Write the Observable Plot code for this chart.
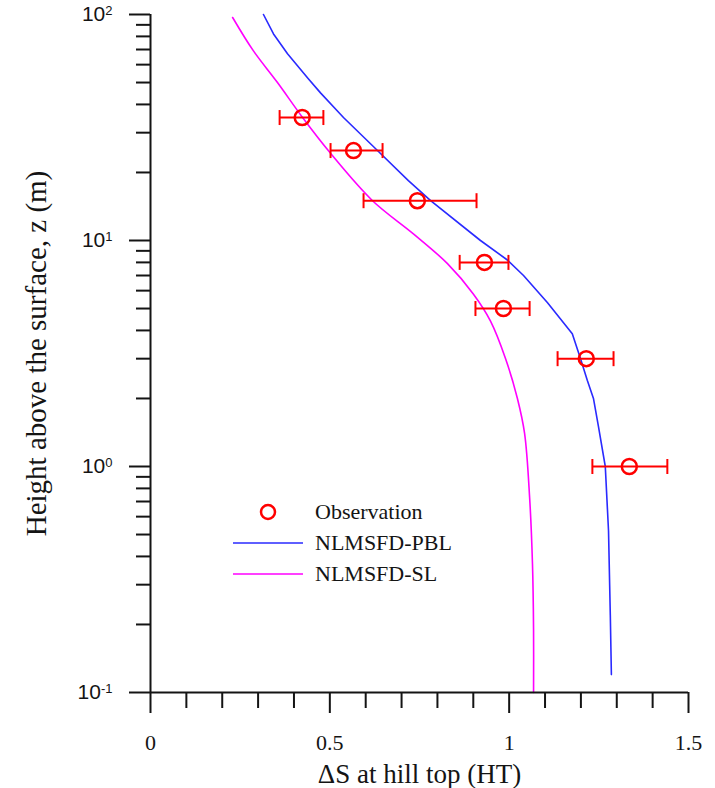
<!DOCTYPE html>
<html>
<head>
<meta charset="utf-8">
<script src="https://cdn.jsdelivr.net/npm/d3@7"></script>
<script src="https://cdn.jsdelivr.net/npm/@observablehq/plot@0.6"></script>
<style>
  html, body { margin: 0; padding: 0; background: #fff; }
  #wrap { position: relative; width: 715px; height: 788px; overflow: hidden; }
  #legend { position: absolute; left: 0; top: 0; pointer-events: none; }
</style>
</head>
<body>
<div id="wrap"></div>
<script>
// Observations (z in m, ΔS with error range)
const obsZ  = [35, 25, 15, 8, 5, 3, 1];
const obsX  = [0.423, 0.566, 0.744, 0.931, 0.984, 1.215, 1.335];
const obsLo = [0.360, 0.502, 0.594, 0.862, 0.906, 1.135, 1.232];
const obsHi = [0.482, 0.647, 0.909, 0.998, 1.057, 1.291, 1.441];

// NLMSFD-PBL model profile
const pblZ = [100, 82, 67, 52, 45, 35, 26, 18.4, 15, 10, 8.2, 7.0, 5.3, 3.87, 3.0, 2.4, 2.0, 1.5, 1.0, 0.52, 0.22, 0.12];
const pblX = [0.315, 0.343, 0.382, 0.440, 0.474, 0.538, 0.622, 0.719, 0.781, 0.920, 0.995, 1.040, 1.107, 1.176, 1.199, 1.218, 1.235, 1.249, 1.268, 1.277, 1.282, 1.285];

// NLMSFD-SL model profile
const slZ = [97, 69, 50, 35, 24.3, 15, 10.7, 7.9, 5.8, 4.4, 3.0, 2.0, 1.4, 0.73, 0.37, 0.19, 0.1];
const slX = [0.229, 0.287, 0.354, 0.424, 0.502, 0.619, 0.733, 0.828, 0.900, 0.948, 0.990, 1.023, 1.043, 1.057, 1.065, 1.068, 1.068];

// Axis ticks
const xMajor = [0, 0.5, 1, 1.5];
const xMinor = [0.1, 0.2, 0.3, 0.4, 0.6, 0.7, 0.8, 0.9, 1.1, 1.2, 1.3, 1.4];
const yMajor = [0.1, 1, 10, 100];
const yMajorBase = ["10", "10", "10", "10"];
const yMajorExp = ["-1", "0", "1", "2"];
const yMinor = [0.2,0.3,0.4,0.5,0.6,0.7,0.8,0.9, 2,3,4,5,6,7,8,9, 20,30,40,50,60,70,80,90];

const seriesNames = ["Observation", "NLMSFD-PBL", "NLMSFD-SL"];
const seriesColors = ["#ff0000", "#2a2aff", "#ff00ff"];

const obs = obsZ.map((z, i) => ({z, x: obsX[i], lo: obsLo[i], hi: obsHi[i]}));
const pbl = pblZ.map((z, i) => ({z, x: pblX[i]}));
const sl = slZ.map((z, i) => ({z, x: slX[i]}));

const capSymbol = {
  draw(ctx, size) {
    const r = Math.sqrt(size / Math.PI);
    ctx.moveTo(0, -r);
    ctx.lineTo(0, r);
  }
};

const SERIF = "'Liberation Serif', 'Times New Roman', serif";
const SANS = "'Liberation Sans', Arial, sans-serif";
const INK = "#141414";

const chart = Plot.plot({
  width: 715,
  height: 788,
  marginLeft: 150,
  marginRight: 27,
  marginTop: 14,
  marginBottom: 96,
  style: { fontFamily: SERIF, fontSize: "22px", color: INK, background: "transparent" },
  x: { domain: [0, 1.5] },
  y: { type: "log", domain: [0.1, 100] },
  marks: [
    // model lines
    Plot.line(sl, { x: "x", y: "z", stroke: seriesColors[2], strokeWidth: 1.6, curve: "catmull-rom" }),
    Plot.line(pbl, { x: "x", y: "z", stroke: seriesColors[1], strokeWidth: 1.6 }),
    // error bars
    Plot.link(obs, { x1: "lo", x2: "hi", y1: "z", y2: "z", stroke: seriesColors[0], strokeWidth: 2 }),
    Plot.dot(obs, { x: "lo", y: "z", r: 7.5, symbol: capSymbol, stroke: seriesColors[0], strokeWidth: 2 }),
    Plot.dot(obs, { x: "hi", y: "z", r: 7.5, symbol: capSymbol, stroke: seriesColors[0], strokeWidth: 2 }),
    // observation circles
    Plot.dot(obs, { x: "x", y: "z", r: 7.5, stroke: seriesColors[0], strokeWidth: 2.5 }),
    // axes lines
    Plot.ruleX([0], { stroke: INK, strokeWidth: 2 }),
    Plot.ruleY([0.1], { stroke: INK, strokeWidth: 2 }),
    // x axis
    Plot.axisX({ ticks: xMajor, tickSize: 21, tickPadding: 21, strokeWidth: 2, stroke: INK,
      tickFormat: d => String(d), label: null, fontSize: 22 }),
    Plot.axisX({ ticks: xMinor, tickSize: 16, strokeWidth: 2, stroke: INK, tickFormat: () => "", label: null }),
    // y axis
    Plot.axisY({ ticks: yMajor, tickSize: 21, tickPadding: 17, strokeWidth: 2, stroke: INK,
      tickFormat: d => yMajorBase[yMajor.indexOf(d)] + "|" + yMajorExp[yMajor.indexOf(d)], label: null,
      fontFamily: SANS, fontSize: 21 }),
    Plot.axisY({ ticks: yMinor, tickSize: 14, strokeWidth: 2, stroke: INK, tickFormat: () => "", label: null }),
    // axis titles
    Plot.axisX({ ticks: [], label: "\u0394S at hill top (HT)", labelAnchor: "center", labelArrow: "none", labelOffset: 90, tickSize: 0, fontSize: 27 }),
    Plot.axisY({ ticks: [], label: "Height above the surface, z (m)", labelAnchor: "center", labelArrow: "none", labelOffset: 125, tickSize: 0, fontSize: 29 })
  ]
});

const wrap = document.getElementById("wrap");
wrap.appendChild(chart);

// turn "10|e" labels into base + superscript
d3.select(chart).selectAll("text").each(function() {
  const t = this.textContent;
  if (t.includes("|")) {
    const [b, e] = t.split("|");
    const sel = d3.select(this);
    sel.text(null);
    sel.append("tspan").text(b);
    sel.append("tspan").attr("dy", "-0.45em").attr("font-size", "13px").text(e);
  }
});

// Legend overlay
const leg = d3.select(wrap).append("svg")
  .attr("id", "legend")
  .attr("width", 715).attr("height", 788)
  .style("font-family", SERIF).style("font-size", "22px");
const lx = 233, lw = 70, tx = 315, ly0 = 512, dy = 31;
seriesNames.forEach((name, i) => {
  const cy = ly0 + i * dy;
  if (i === 0) {
    leg.append("circle").attr("cx", lx + lw / 2).attr("cy", cy).attr("r", 7)
      .attr("fill", "none").attr("stroke", seriesColors[0]).attr("stroke-width", 2.5);
  } else {
    leg.append("line").attr("x1", lx).attr("x2", lx + lw).attr("y1", cy).attr("y2", cy)
      .attr("stroke", seriesColors[i]).attr("stroke-width", 1.6);
  }
  leg.append("text").attr("x", tx).attr("y", cy).attr("dy", "0.32em")
    .attr("fill", INK).text(name);
});
</script>
</body>
</html>
